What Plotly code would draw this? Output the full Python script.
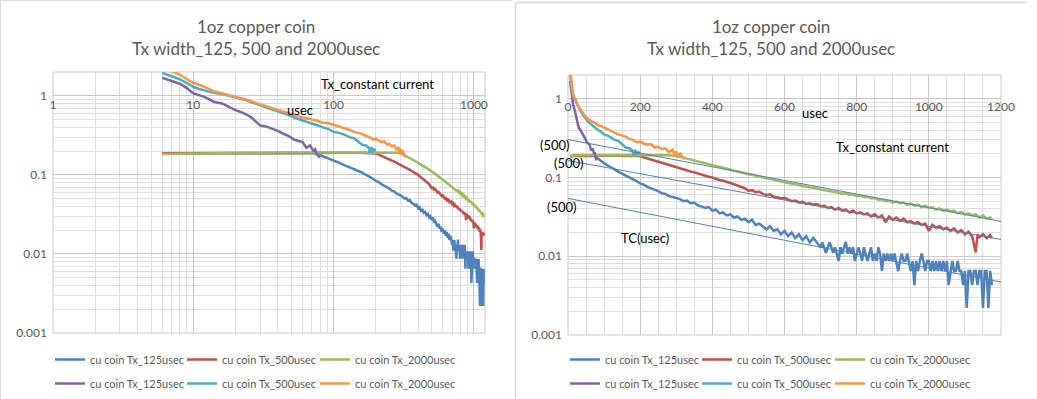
import math
import plotly.graph_objects as go

W, H = 1037, 399

# ---------------- data ----------------
purple_x = [6, 7, 8, 9, 10, 11, 12, 13, 14, 16, 18, 20, 22, 24, 26, 28, 30, 33, 36, 40,
            44, 48, 52, 56, 60, 64, 68, 72, 74, 76, 80]
purple_y = [1.69, 1.55, 1.42, 1.25, 1.07, 1.02, 0.97, 0.90, 0.84, 0.80, 0.72, 0.66, 0.62, 0.58, 0.53, 0.47,
            0.42, 0.41, 0.39, 0.36, 0.33, 0.31, 0.28, 0.27, 0.26, 0.22, 0.235, 0.20, 0.21, 0.18, 0.165]

cyan_x = [6, 7, 8, 9, 10, 11, 12, 14, 16, 18, 20, 23, 26, 30, 34, 38, 43, 48, 54, 60, 67, 75, 83, 92,
          100, 110, 120, 130, 140, 150, 160, 170, 178, 182, 186, 190, 195, 200]
cyan_y = [1.95, 1.78, 1.62, 1.45, 1.30, 1.22, 1.17, 1.09, 1.05, 1.00, 0.96, 0.90, 0.83, 0.76, 0.71, 0.66,
          0.61, 0.57, 0.52, 0.49, 0.46, 0.43, 0.40, 0.38, 0.35, 0.34, 0.32, 0.30, 0.29, 0.26, 0.24, 0.235,
          0.22, 0.19, 0.225, 0.20, 0.21, 0.20]

orange_x = [6, 7, 8, 9, 10, 11, 12, 14, 16, 18, 20, 23, 26, 30, 34, 38, 43, 48, 54, 60, 67, 75, 83, 92,
            100, 110, 120, 130, 140, 150, 160, 170, 180, 190, 200, 210, 220, 230, 240, 250, 260, 270,
            280, 290, 295, 300, 305, 310, 315, 320, 325]
orange_y = [2.3, 2.05, 1.86, 1.62, 1.46, 1.38, 1.30, 1.14, 1.08, 1.02, 0.97, 0.91, 0.85, 0.78, 0.73, 0.69,
            0.64, 0.60, 0.56, 0.53, 0.51, 0.49, 0.46, 0.45, 0.43, 0.41, 0.39, 0.37, 0.35, 0.34, 0.33, 0.31,
            0.30, 0.28, 0.285, 0.27, 0.26, 0.265, 0.24, 0.245, 0.23, 0.235, 0.21, 0.225, 0.19, 0.215, 0.18,
            0.205, 0.19, 0.175, 0.18]

blue_x = [6, 10, 20, 30, 40, 50, 60, 70, 75,
          80, 90, 100, 110, 120, 130, 140, 150, 160, 170, 180, 190, 200, 210, 220, 230, 240, 250, 260,
          270, 280, 290, 300, 310, 320, 330, 340, 350, 360, 370, 380, 390, 400, 410, 420, 430, 440,
          450, 460, 470, 480, 490, 500, 510, 520, 530, 540, 550, 560, 570, 580, 590, 600, 610, 620,
          630, 640, 650, 660, 670, 680, 690,
          700, 705, 710, 715, 720, 725, 730, 735, 740, 745, 750, 755, 760, 765, 770, 775, 780, 785,
          790, 795, 800, 805, 810, 815, 820, 825, 830, 835, 840, 845, 850, 855, 860, 865, 870, 875,
          880, 885, 890, 895, 900, 905, 910, 915, 920, 925, 930, 935, 940, 945, 950, 955, 960, 965,
          970, 975, 980, 985, 990, 995, 1000, 1005, 1010, 1015, 1020, 1025, 1030, 1035, 1040, 1045,
          1050, 1055, 1060, 1065, 1070, 1075, 1080, 1085, 1090, 1095, 1100, 1105, 1110, 1115, 1120,
          1125, 1130, 1135, 1140, 1145, 1150, 1155, 1160, 1165, 1170, 1175]
blue_y = [0.186, 0.187, 0.188, 0.188, 0.189, 0.188, 0.189, 0.188, 0.186,
          0.178, 0.165, 0.152, 0.142, 0.132, 0.126, 0.118, 0.112, 0.107, 0.100, 0.095, 0.090, 0.084,
          0.081, 0.076, 0.073, 0.069, 0.067, 0.063, 0.062, 0.058, 0.057, 0.055, 0.053, 0.050, 0.051,
          0.047, 0.048, 0.044, 0.043, 0.041, 0.042, 0.038, 0.039, 0.035, 0.036, 0.033, 0.034, 0.031,
          0.032, 0.029, 0.030, 0.027, 0.029, 0.025, 0.026, 0.024, 0.022, 0.024, 0.021, 0.022, 0.019,
          0.021, 0.018, 0.020, 0.017, 0.019, 0.016, 0.018, 0.015, 0.017, 0.015,
          0.013, 0.015, 0.013, 0.011, 0.013, 0.015, 0.013, 0.011, 0.013, 0.0108, 0.0087, 0.013, 0.0108,
          0.013, 0.0152, 0.0108, 0.013, 0.0108, 0.013, 0.0087, 0.0108, 0.013, 0.0108, 0.0087, 0.013,
          0.0108, 0.0087, 0.0108, 0.013, 0.0087, 0.0108, 0.0087, 0.013, 0.0108, 0.0065, 0.0108, 0.0087,
          0.0108, 0.0087, 0.0108, 0.0087, 0.0108, 0.0087, 0.0065, 0.0087, 0.0108, 0.0087, 0.0087,
          0.0108, 0.0087, 0.0065, 0.0087, 0.0043, 0.0087, 0.0065, 0.0087, 0.0108, 0.0087, 0.0065,
          0.0087, 0.0087, 0.0065, 0.0087, 0.0065, 0.0087, 0.0065, 0.0087, 0.0065, 0.0087, 0.0065,
          0.0087, 0.0043, 0.0065, 0.0087, 0.0065, 0.0065, 0.0087, 0.0065, 0.0065, 0.0043, 0.0065,
          0.0022, 0.0065, 0.0065, 0.0043, 0.0065, 0.0065, 0.0043, 0.0065, 0.0065, 0.0022, 0.0065,
          0.0065, 0.0022, 0.0065, 0.0043]

red_x = [6, 10, 20, 30, 40, 50, 60, 70, 80, 90, 100, 110, 120, 130, 140, 150, 160, 170, 180, 190,
         200, 210, 220, 230, 240, 250, 260, 270, 280, 290, 300, 310, 320, 330, 340, 350, 360, 370,
         380, 390, 400, 410, 420, 430, 440, 450, 460, 470, 480, 490, 500, 510, 520, 530, 540, 550,
         560, 570, 580, 590, 600, 610, 620, 630, 640, 650, 660, 670, 680, 690, 700, 710, 720, 730,
         740, 750, 760, 770, 780, 790, 800, 810, 820, 830, 840, 850, 860, 870, 880, 890, 900, 910,
         920, 930, 940, 950, 960, 970, 980, 990, 1000, 1010, 1020, 1030, 1040, 1050, 1060, 1070,
         1080, 1090, 1100, 1110, 1120, 1130, 1135, 1140, 1150, 1160, 1170, 1175]
red_y = [0.188, 0.189, 0.190, 0.189, 0.190, 0.191, 0.190, 0.190, 0.191, 0.190, 0.190, 0.191, 0.190,
         0.190, 0.191, 0.190, 0.190, 0.190, 0.189, 0.188,
         0.186, 0.180, 0.174, 0.168, 0.162, 0.157, 0.152, 0.147, 0.143, 0.138, 0.134, 0.131, 0.127,
         0.123, 0.119, 0.116, 0.112, 0.109, 0.106, 0.102, 0.100, 0.096, 0.093, 0.091, 0.087, 0.085,
         0.082, 0.079, 0.076, 0.073, 0.068, 0.069, 0.065, 0.066, 0.062, 0.060, 0.061, 0.057, 0.056,
         0.054, 0.055, 0.052, 0.050, 0.051, 0.048, 0.049, 0.046, 0.047, 0.045, 0.046, 0.043, 0.044,
         0.041, 0.042, 0.039, 0.041, 0.038, 0.039, 0.036, 0.038, 0.035, 0.036, 0.034, 0.035, 0.032,
         0.034, 0.031, 0.033, 0.027, 0.032, 0.029, 0.031, 0.028, 0.030, 0.027, 0.028, 0.026, 0.027,
         0.025, 0.026, 0.021, 0.025, 0.023, 0.024, 0.022, 0.023, 0.021, 0.0225, 0.020, 0.0215, 0.019,
         0.0205, 0.018, 0.0112, 0.019, 0.0175, 0.019, 0.017, 0.0185, 0.017]

green_x = [6, 10, 20, 30, 40, 50, 60, 70, 80, 90, 100, 120, 140, 160, 180, 200, 220, 240, 260, 280,
           300, 310, 320, 330, 340, 350, 360, 370, 380, 390, 400, 410, 420, 430, 440, 450, 460, 470,
           480, 490, 500, 510, 520, 530, 540, 550, 560, 570, 580, 590, 600, 610, 620, 630, 640, 650,
           660, 670, 680, 690, 700, 710, 720, 730, 740, 750, 760, 770, 780, 790, 800, 810, 820, 830,
           840, 850, 860, 870, 880, 890, 900, 910, 920, 930, 940, 950, 960, 970, 980, 990, 1000,
           1010, 1020, 1030, 1040, 1050, 1060, 1070, 1080, 1090, 1100, 1110, 1120, 1130, 1140, 1150,
           1160, 1170, 1175]
green_y = [0.183, 0.186, 0.190, 0.192, 0.193, 0.193, 0.192, 0.192, 0.193, 0.193, 0.192, 0.192, 0.193,
           0.193, 0.192, 0.192, 0.193, 0.192, 0.192, 0.191,
           0.188, 0.183, 0.178, 0.172, 0.167, 0.162, 0.158, 0.154, 0.149, 0.145, 0.141, 0.138, 0.134,
           0.131, 0.128, 0.125, 0.122, 0.119, 0.116, 0.113, 0.110, 0.108, 0.105, 0.103, 0.100, 0.098,
           0.096, 0.093, 0.091, 0.089, 0.087, 0.085, 0.083, 0.082, 0.080, 0.078, 0.077, 0.075, 0.074,
           0.072, 0.071, 0.069, 0.068, 0.067, 0.065, 0.064, 0.062, 0.063, 0.060, 0.061, 0.058, 0.059,
           0.056, 0.057, 0.054, 0.055, 0.052, 0.053, 0.050, 0.051, 0.048, 0.0495, 0.047, 0.048, 0.045,
           0.0465, 0.044, 0.045, 0.042, 0.0435, 0.041, 0.042, 0.039, 0.0405, 0.038, 0.039, 0.037,
           0.038, 0.035, 0.0365, 0.034, 0.035, 0.033, 0.034, 0.031, 0.033, 0.030, 0.031, 0.029]

# trend lines (right chart), values at x = 0 and x = 1200
trend_x = [0, 1200]
trend_green_y = [0.303, 0.0277]
trend_red_y = [0.164, 0.0163]
trend_blue_y = [0.0542, 0.0047]

series_names = ["cu coin Tx_125usec", "cu coin Tx_500usec", "cu coin Tx_2000usec",
                "cu coin Tx_125usec", "cu coin Tx_500usec", "cu coin Tx_2000usec"]
series_colors = ["#4F81BD", "#C0504D", "#9BBB59", "#8064A2", "#4BACC6", "#F79646"]
series_x = [blue_x, red_x, green_x, purple_x, cyan_x, orange_x]
series_y = [blue_y, red_y, green_y, purple_y, cyan_y, orange_y]

log_ticks = [1, 10, 100, 1000]
log_tick_text = ["1", "10", "100", "1000"]
y_ticks = [0.001, 0.01, 0.1, 1]
y_tick_text = ["0.001", "0.01", "0.1", "1"]
lin_ticks = [0, 200, 400, 600, 800, 1000, 1200]
lin_tick_text = ["0", "200", "400", "600", "800", "1000", "1200"]

# ---------------- figure ----------------
FONT = "Lato"
GRAY = "#595959"
GRID_MAJ = "#c8c8c8"
GRID_MIN = "#dedede"

fig = go.Figure()

left_legends = ["legend", "legend2", "legend3"]
right_legends = ["legend4", "legend5", "legend6"]

for side, (xa, ya) in enumerate([("x", "y"), ("x2", "y2")]):
    legs = left_legends if side == 0 else right_legends
    for i in range(6):
        fig.add_trace(go.Scatter(
            x=series_x[i], y=series_y[i], name=series_names[i], mode="lines",
            line=dict(color=series_colors[i], width=2.5),
            xaxis=xa, yaxis=ya, legend=legs[i % 3], legendgroup=f"g{side}{i}"))

for ty in [trend_green_y, trend_red_y, trend_blue_y]:
    fig.add_trace(go.Scatter(x=trend_x, y=ty, mode="lines", showlegend=False,
                             line=dict(color="#4F81BD", width=1), xaxis="x2", yaxis="y2",
                             hoverinfo="skip"))

def px_x(p):
    return p / W

def px_y(p):
    return 1 - p / H

minor_log_x = [m * 10 ** d for d in range(0, 4) for m in range(2, 10) if m * 10 ** d <= 1200]
minor_log_y = [m * 10.0 ** d for d in range(-3, 1) for m in range(2, 10) if m * 10.0 ** d <= 2]

tickfont = dict(family=FONT, size=12, color=GRAY)

common_y = dict(type="log", range=[-3, math.log10(2)], tickvals=y_ticks, ticktext=y_tick_text,
                showgrid=True, gridcolor=GRID_MAJ, gridwidth=1, zeroline=False, showline=False,
                ticks="", tickfont=tickfont, ticklabelstandoff=6, automargin=False,
                minor=dict(tickvals=minor_log_y, showgrid=True, gridcolor=GRID_MIN, gridwidth=1))

fig.update_layout(
    width=W, height=H, margin=dict(l=0, r=0, t=0, b=0, autoexpand=False),
    paper_bgcolor="white", plot_bgcolor="white", showlegend=True,
    xaxis=dict(type="log", range=[0, math.log10(1200)], domain=[px_x(53), px_x(485)],
               anchor="free", position=px_y(96), tickvals=log_ticks, ticktext=log_tick_text,
               showgrid=True, gridcolor=GRID_MAJ, zeroline=False, showline=False, ticks="",
               tickfont=tickfont, automargin=False,
               minor=dict(tickvals=minor_log_x, showgrid=True, gridcolor=GRID_MIN, gridwidth=1)),
    yaxis=dict(domain=[px_y(333), px_y(72)], anchor="free", position=px_x(53), **common_y),
    xaxis2=dict(range=[0, 1200], domain=[px_x(568), px_x(1001)], anchor="free",
                position=px_y(98), tickvals=lin_ticks, ticktext=lin_tick_text,
                showgrid=True, gridcolor=GRID_MAJ, zeroline=False, showline=False, ticks="",
                tickfont=tickfont, automargin=False,
                minor=dict(dtick=50, showgrid=True, gridcolor=GRID_MIN, gridwidth=1)),
    yaxis2=dict(domain=[px_y(335), px_y(75)], anchor="free", position=px_x(568), **common_y),
)

def legend_at(xpx, ypx):
    return dict(x=px_x(xpx), y=px_y(ypx), xanchor="left", yanchor="middle", orientation="v",
                bgcolor="rgba(0,0,0,0)", borderwidth=0, tracegroupgap=5,
                font=dict(family=FONT, size=11, color=GRAY), itemwidth=30)

legend_text_x_left = [90, 222, 355]
legend_mid_y = 371.5
leg_layout = {}
for k, xp in enumerate(legend_text_x_left):
    leg_layout[left_legends[k]] = legend_at(xp - 40, legend_mid_y)
    leg_layout[right_legends[k]] = legend_at(xp + 515 - 40, legend_mid_y)
fig.update_layout(**leg_layout)

def ann(text, xpx, ypx, size=13, color="black"):
    return dict(text=text, x=px_x(xpx), y=px_y(ypx), xref="paper", yref="paper",
                showarrow=False, xanchor="center", yanchor="middle",
                font=dict(family=FONT, size=size, color=color))

annotations = [
    ann("1oz copper coin", 256, 26, 17, GRAY),
    ann("Tx width_125, 500 and 2000usec", 256, 48, 17, GRAY),
    ann("1oz copper coin", 771, 26, 17, GRAY),
    ann("Tx width_125, 500 and 2000usec", 771, 48, 17, GRAY),
    ann("Tx_constant current", 377, 84),
    ann("usec", 300, 110),
    ann("usec", 815, 113),
    ann("Tx_constant current", 892, 147),
    ann("(500)", 555, 145),
    ann("(500)", 569, 163),
    ann("(500)", 562, 207),
    ann("TC(usec)", 645, 238),
]
fig.update_layout(annotations=annotations)

BORDER = "#d9d9d9"
shapes = [
    dict(type="line", xref="paper", yref="paper", x0=px_x(0.5), x1=px_x(0.5), y0=0, y1=1,
         line=dict(color=BORDER, width=1)),
    dict(type="line", xref="paper", yref="paper", x0=0, x1=px_x(512), y0=px_y(0.5), y1=px_y(0.5),
         line=dict(color=BORDER, width=1)),
    dict(type="line", xref="paper", yref="paper", x0=px_x(515.5), x1=px_x(515.5), y0=0,
         y1=px_y(2), line=dict(color=BORDER, width=1.5)),
    dict(type="line", xref="paper", yref="paper", x0=px_x(515), x1=px_x(1027), y0=px_y(2.5),
         y1=px_y(2.5), line=dict(color=BORDER, width=1.5)),
    dict(type="rect", xref="x domain", yref="y domain", x0=0, x1=1, y0=0, y1=1,
         line=dict(color=GRID_MAJ, width=1), layer="below"),
    dict(type="rect", xref="x2 domain", yref="y2 domain", x0=0, x1=1, y0=0, y1=1,
         line=dict(color=GRID_MAJ, width=1), layer="below"),
]
fig.update_layout(shapes=shapes)

fig.write_html("out.html", config={"displayModeBar": False},
               post_script="document.body.style.margin='0';document.body.style.overflow='hidden';")
